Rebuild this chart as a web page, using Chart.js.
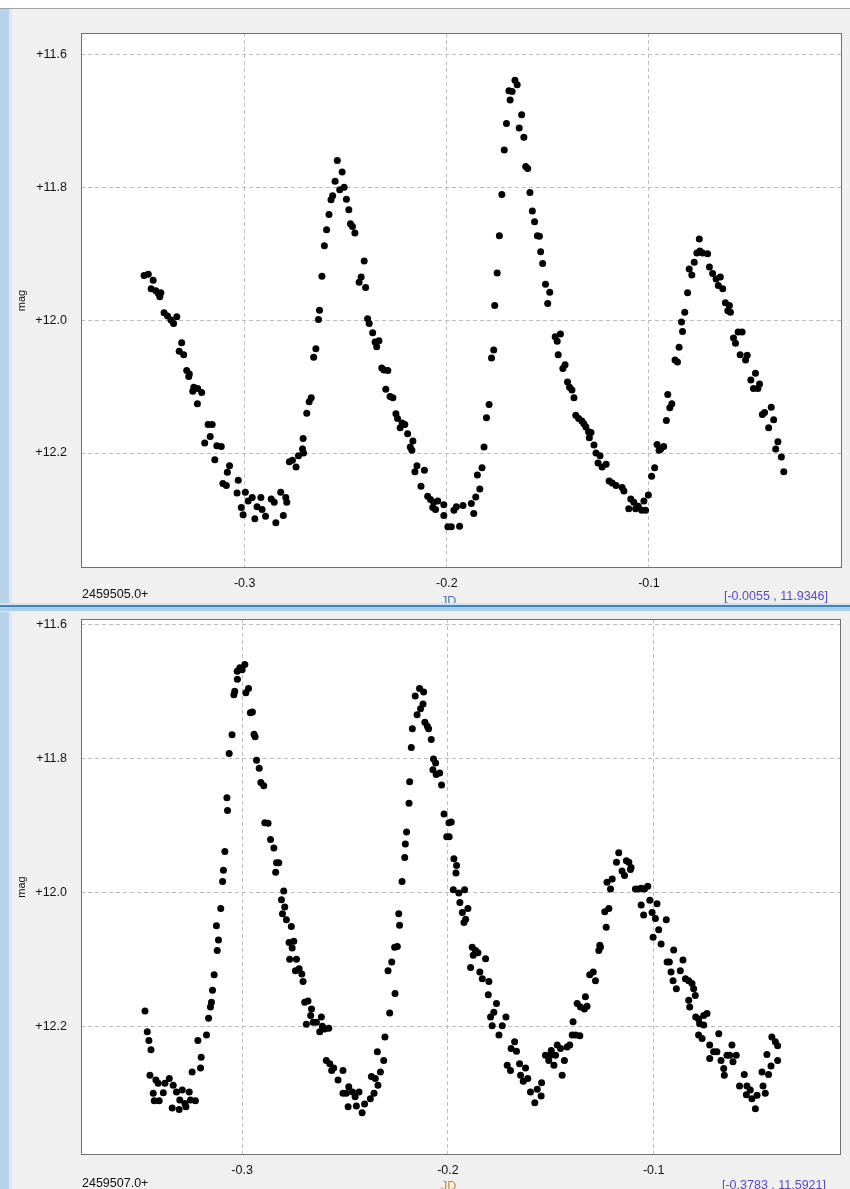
<!DOCTYPE html>
<html>
<head>
<meta charset="utf-8">
<script src="https://cdn.jsdelivr.net/npm/chart.js@4.4.1/dist/chart.umd.min.js"></script>
<style>
  html, body { margin: 0; padding: 0; }
  body { width: 850px; height: 1189px; position: relative; overflow: hidden; background: #f0f0f0;
         font-family: "Liberation Sans", Arial, sans-serif; }
  .topbar { position: absolute; left: 0; top: 0; width: 850px; height: 8px; background: #fff;
            border-bottom: 1px solid #a3a3a3; z-index: 3; }
  .strip { position: absolute; left: 0; top: 9px; width: 9px; height: 1180px; background: #b8d2ea;
           border-right: 3px solid #dbe8f4; z-index: 3; }
  .panel { position: absolute; left: 0; width: 850px; overflow: hidden; }
  .panel canvas { position: absolute; left: 0; top: 0; }
  .lbl { position: absolute; font-size: 12.5px; line-height: 14px; white-space: nowrap; color: #111; }
  .sep { position: absolute; left: 0; top: 603px; width: 850px; height: 9px; z-index: 4;
         background: linear-gradient(#d4e3f1 0 2px, #3f87b8 2px 4px, #a9cfe9 4px 8px, #e6eef6 8px 9px); }
</style>
</head>
<body>
<div class="topbar"></div>
<div class="strip"></div>

<div class="panel" style="top:0;height:603px">
  <canvas id="chartTop" width="850" height="605"></canvas>
  <div class="lbl" style="left:82px;top:587px">2459505.0+</div>
  <div class="lbl" style="left:441px;top:594px;color:#4a76b0">JD</div>
  <div class="lbl" style="right:22px;top:589px;color:#5a48c8">[-0.0055 , 11.9346]</div>
</div>
<div class="sep"></div>
<div class="panel" style="top:611px;height:578px">
  <canvas id="chartBottom" width="850" height="578"></canvas>
  <div class="lbl" style="left:82px;top:565px">2459507.0+</div>
  <div class="lbl" style="left:441px;top:568px;color:#c08a35">JD</div>
  <div class="lbl" style="right:24px;top:567px;color:#5a48c8">[-0.3783 , 11.5921]</div>
</div>

<script>
// tick positions
const xTicks = [-0.3, -0.2, -0.1];
const yTicks = [11.6, 11.8, 12.0, 12.2];

// upper panel, JD offset from 2459505.0
const topJd = [
  -0.3498, -0.3477, -0.3453, -0.3463, -0.3440, -0.3427, -0.3415, -0.3420, -0.3399, -0.3382,
  -0.3365, -0.3352, -0.3336, -0.3312, -0.3324, -0.3302, -0.3287, -0.3274, -0.3277, -0.3252,
  -0.3257, -0.3233, -0.3213, -0.3234, -0.3181, -0.3161, -0.3171, -0.3198, -0.3138, -0.3116,
  -0.3148, -0.3075, -0.3086, -0.3108, -0.3091, -0.3032, -0.3038, -0.2997, -0.2983, -0.2963,
  -0.3017, -0.3008, -0.2950, -0.2939, -0.2920, -0.2914, -0.2897, -0.2869, -0.2854, -0.2846,
  -0.2822, -0.2809, -0.2797, -0.2792, -0.2779, -0.2764, -0.2746, -0.2734, -0.2714, -0.2709,
  -0.2711, -0.2693, -0.2681, -0.2671, -0.2659, -0.2648, -0.2635, -0.2630, -0.2618, -0.2606,
  -0.2595, -0.2583, -0.2573, -0.2565, -0.2553, -0.2542, -0.2530, -0.2518, -0.2508, -0.2497,
  -0.2485, -0.2477, -0.2467, -0.2455, -0.2409, -0.2424, -0.2434, -0.2402, -0.2392, -0.2384,
  -0.2367, -0.2355, -0.2347, -0.2336, -0.2322, -0.2311, -0.2292, -0.2302, -0.2281, -0.2267,
  -0.2252, -0.2244, -0.2231, -0.2221, -0.2208, -0.2194, -0.2181, -0.2168, -0.2173, -0.2148,
  -0.2158, -0.2111, -0.2128, -0.2095, -0.2081, -0.2065, -0.2070, -0.2045, -0.2056, -0.2015,
  -0.2015, -0.1995, -0.1978, -0.1965, -0.1953, -0.1937,
  -0.1920, -0.1879, -0.1867, -0.1857, -0.1837, -0.1849, -0.1826, -0.1816, -0.1804, -0.1791,
  -0.1779, -0.1768, -0.1763, -0.1751, -0.1740, -0.1728, -0.1716, -0.1705, -0.1687, -0.1693,
  -0.1677, -0.1663, -0.1652, -0.1630, -0.1642, -0.1619, -0.1610, -0.1600, -0.1589, -0.1577,
  -0.1566, -0.1552, -0.1542, -0.1536, -0.1526, -0.1512, -0.1491, -0.1501, -0.1464, -0.1454,
  -0.1438, -0.1449, -0.1426, -0.1415, -0.1403, -0.1393, -0.1381, -0.1371, -0.1362, -0.1348,
  -0.1332, -0.1322, -0.1312, -0.1299, -0.1287, -0.1295, -0.1272, -0.1262, -0.1242, -0.1252,
  -0.1232, -0.1212, -0.1197, -0.1182, -0.1163, -0.1133, -0.1124, -0.1100, -0.1090, -0.1075,
  -0.1066, -0.1053, -0.1036, -0.1025, -0.1017, -0.1003, -0.0987, -0.0972, -0.0960, -0.0942,
  -0.0950, -0.0927, -0.0914, -0.0907, -0.0897, -0.0887, -0.0871, -0.0859, -0.0851, -0.0834,
  -0.0839, -0.0823, -0.0809, -0.0801, -0.0788, -0.0776, -0.0763, -0.0751, -0.0748, -0.0735,
  -0.0710, -0.0701, -0.0685, -0.0668, -0.0647, -0.0657, -0.0635, -0.0622, -0.0602, -0.0610,
  -0.0597, -0.0582, -0.0572, -0.0559, -0.0539, -0.0549, -0.0522, -0.0514, -0.0496, -0.0473,
  -0.0483, -0.0453, -0.0461, -0.0439, -0.0428, -0.0395, -0.0408, -0.0383, -0.0373, -0.0362,
  -0.0345, -0.0333
];
const topMag = [
  11.933, 11.931, 11.940, 11.953, 11.956, 11.960, 11.959, 11.965, 11.989, 11.994,
  12.000, 12.005, 11.995, 12.034, 12.047, 12.052, 12.076, 12.081, 12.085, 12.101,
  12.107, 12.103, 12.109, 12.126, 12.157, 12.157, 12.175, 12.185, 12.189, 12.190,
  12.210, 12.219, 12.229, 12.246, 12.249, 12.241, 12.260, 12.259, 12.272, 12.267,
  12.282, 12.293, 12.299, 12.281, 12.267, 12.285, 12.295, 12.269, 12.274, 12.305,
  12.259, 12.294, 12.267, 12.274, 12.213, 12.211, 12.221, 12.204, 12.194, 12.200,
  12.178, 12.140, 12.123, 12.117, 12.056, 12.043, 11.999, 11.985, 11.934, 11.888,
  11.864, 11.841, 11.819, 11.813, 11.791, 11.760, 11.804, 11.777, 11.800, 11.818,
  11.834, 11.855, 11.859, 11.869, 11.911, 11.935, 11.943, 11.951, 11.998, 12.005,
  12.019, 12.033, 12.040, 12.031, 12.072, 12.075, 12.076, 12.104, 12.115, 12.117,
  12.141, 12.148, 12.162, 12.155, 12.157, 12.171, 12.191, 12.182, 12.196, 12.219,
  12.228, 12.226, 12.250, 12.265, 12.270, 12.274, 12.282, 12.272, 12.285, 12.278,
  12.294, 12.311, 12.311, 12.286, 12.281, 12.310,
  12.279, 12.276, 12.291, 12.266, 12.254, 12.233, 12.222, 12.191, 12.147, 12.127,
  12.057, 12.045, 11.978, 11.929, 11.873, 11.811, 11.744, 11.704, 11.669, 11.655,
  11.656, 11.639, 11.646, 11.691, 11.711, 11.725, 11.769, 11.772, 11.808, 11.836,
  11.852, 11.873, 11.874, 11.897, 11.915, 11.946, 11.958, 11.975, 12.025, 12.032,
  12.021, 12.052, 12.073, 12.067, 12.093, 12.101, 12.105, 12.117, 12.143, 12.148,
  12.152, 12.156, 12.161, 12.168, 12.169, 12.177, 12.188, 12.200, 12.204, 12.215,
  12.221, 12.217, 12.242, 12.245, 12.249, 12.252, 12.257, 12.284, 12.269, 12.274,
  12.284, 12.280, 12.286, 12.272, 12.286, 12.263, 12.235, 12.222, 12.187, 12.194,
  12.196, 12.190, 12.151, 12.112, 12.132, 12.126, 12.060, 12.063, 12.041, 12.017,
  12.003, 11.988, 11.959, 11.923, 11.932, 11.913, 11.899, 11.878, 11.896, 11.899,
  11.900, 11.920, 11.930, 11.938, 11.935, 11.948, 11.953, 11.974, 11.978, 11.986,
  11.988, 12.027, 12.035, 12.018, 12.018, 12.052, 12.060, 12.053, 12.090, 12.080,
  12.103, 12.096, 12.103, 12.142, 12.139, 12.131, 12.162, 12.150, 12.194, 12.183,
  12.206, 12.228
];

// lower panel, JD offset from 2459507.0
const bottomJd = [
  -0.3472, -0.3461, -0.3453, -0.3443, -0.3448, -0.3419, -0.3408, -0.3432, -0.3427, -0.3403,
  -0.3383, -0.3375, -0.3354, -0.3335, -0.3319, -0.3340, -0.3306, -0.3291, -0.3303, -0.3278,
  -0.3273, -0.3257, -0.3251, -0.3243, -0.3227, -0.3215, -0.3202, -0.3199, -0.3173, -0.3163,
  -0.3154, -0.3149, -0.3144, -0.3136, -0.3121, -0.3115, -0.3125, -0.3104, -0.3095, -0.3091,
  -0.3084, -0.3071, -0.3074, -0.3063, -0.3049, -0.3040, -0.3036, -0.3023, -0.3024, -0.3011,
  -0.3000, -0.2987, -0.2982, -0.2969, -0.2960, -0.2950, -0.2942, -0.2937, -0.2930, -0.2917,
  -0.2909, -0.2895, -0.2890, -0.2874, -0.2862, -0.2846, -0.2833, -0.2822, -0.2837, -0.2798,
  -0.2809, -0.2793, -0.2804, -0.2785, -0.2761, -0.2772, -0.2749, -0.2757, -0.2769, -0.2736,
  -0.2741, -0.2723, -0.2710, -0.2704, -0.2696, -0.2680, -0.2663, -0.2667, -0.2688, -0.2655,
  -0.2639, -0.2615, -0.2610, -0.2599, -0.2579, -0.2623, -0.2591, -0.2574, -0.2555, -0.2565,
  -0.2534, -0.2510, -0.2482, -0.2494, -0.2510, -0.2464, -0.2451, -0.2432, -0.2485, -0.2445,
  -0.2417, -0.2405, -0.2377, -0.2359, -0.2340, -0.2353, -0.2328, -0.2372, -0.2343, -0.2312,
  -0.2306, -0.2283, -0.2257, -0.2273, -0.2291, -0.2259, -0.2246, -0.2235, -0.2239, -0.2223,
  -0.2210, -0.2207, -0.2201, -0.2189, -0.2186, -0.2178, -0.2173, -0.2150, -0.2159, -0.2138,
  -0.2118, -0.2121, -0.2133, -0.2112, -0.2100, -0.2094, -0.2081, -0.2070, -0.2060, -0.2073,
  -0.2057, -0.2040, -0.2031,
  -0.2019, -0.1995, -0.1984, -0.2006, -0.1994, -0.1971, -0.1958, -0.1961, -0.1974, -0.1947,
  -0.1919, -0.1942, -0.1903, -0.1930, -0.1914, -0.1922, -0.1882, -0.1866, -0.1877, -0.1854,
  -0.1817, -0.1890, -0.1845, -0.1833, -0.1801, -0.1804, -0.1764, -0.1777, -0.1793, -0.1718,
  -0.1785, -0.1736, -0.1752, -0.1693, -0.1676, -0.1667, -0.1712, -0.1696, -0.1652, -0.1623,
  -0.1647, -0.1634, -0.1612, -0.1599, -0.1566, -0.1545, -0.1578, -0.1547, -0.1526, -0.1510,
  -0.1502, -0.1485, -0.1498, -0.1469, -0.1477, -0.1453, -0.1445, -0.1434, -0.1421, -0.1408,
  -0.1392, -0.1396, -0.1380, -0.1359, -0.1372, -0.1356, -0.1337, -0.1324, -0.1332, -0.1311,
  -0.1294, -0.1283, -0.1267, -0.1259, -0.1262, -0.1238, -0.1218, -0.1231, -0.1227, -0.1202,
  -0.1210, -0.1181, -0.1170, -0.1154, -0.1142, -0.1133, -0.1121, -0.1110, -0.1113, -0.1089,
  -0.1073, -0.1060, -0.1045, -0.1029, -0.1061, -0.1049, -0.1019, -0.1008, -0.0984, -0.0992,
  -0.0939, -0.1003, -0.0976, -0.0964, -0.0935, -0.0924, -0.0903, -0.0916, -0.0906, -0.0890,
  -0.0871, -0.0858, -0.0846, -0.0830, -0.0814, -0.0806, -0.0798, -0.0830, -0.0825, -0.0796,
  -0.0782, -0.0757, -0.0741, -0.0777, -0.0757, -0.0782, -0.0765, -0.0728, -0.0684, -0.0693,
  -0.0709, -0.0728, -0.0673, -0.0644, -0.0620, -0.0631, -0.0599, -0.0660, -0.0657, -0.0615,
  -0.0583, -0.0560, -0.0547, -0.0531, -0.0550, -0.0523, -0.0498, -0.0506, -0.0474, -0.0469,
  -0.0458, -0.0442, -0.0450, -0.0430, -0.0426, -0.0409, -0.0398, -0.0398
];
const bottomMag = [
  12.177, 12.208, 12.221, 12.235, 12.273, 12.280, 12.285, 12.300, 12.311, 12.311,
  12.299, 12.285, 12.278, 12.288, 12.298, 12.322, 12.324, 12.295, 12.310, 12.315,
  12.320, 12.298, 12.310, 12.268, 12.311, 12.221, 12.262, 12.246, 12.213, 12.188,
  12.171, 12.164, 12.146, 12.123, 12.087, 12.071, 12.050, 12.024, 11.984, 11.967,
  11.939, 11.878, 11.859, 11.793, 11.765, 11.705, 11.700, 11.682, 11.670, 11.665,
  11.668, 11.660, 11.702, 11.696, 11.732, 11.731, 11.764, 11.768, 11.803, 11.815,
  11.836, 11.841, 11.896, 11.897, 11.921, 11.934, 11.956, 11.956, 11.970, 11.998,
  12.011, 12.022, 12.032, 12.041, 12.051, 12.075, 12.073, 12.083, 12.100, 12.100,
  12.117, 12.114, 12.122, 12.133, 12.164, 12.162, 12.174, 12.184, 12.197, 12.194,
  12.194, 12.186, 12.200, 12.204, 12.203, 12.208, 12.251, 12.256, 12.262, 12.266,
  12.280, 12.266, 12.290, 12.300, 12.300, 12.298, 12.305, 12.298, 12.320, 12.319,
  12.329, 12.316, 12.308, 12.300, 12.288, 12.278, 12.268, 12.275, 12.238, 12.251,
  12.216, 12.180, 12.151, 12.104, 12.117, 12.082, 12.081, 12.049, 12.032, 11.984,
  11.948, 11.928, 11.910, 11.867, 11.835, 11.784, 11.756, 11.735, 11.707, 11.696,
  11.701, 11.719, 11.726, 11.746, 11.752, 11.756, 11.772, 11.801, 11.807, 11.817,
  11.824, 11.822, 11.840,
  11.883, 11.896, 11.895, 11.917, 11.917, 11.950, 11.960, 11.971, 11.996, 12.001,
  11.996, 12.015, 12.024, 12.030, 12.040, 12.045, 12.082, 12.087, 12.094, 12.090,
  12.099, 12.112, 12.119, 12.129, 12.133, 12.153, 12.166, 12.179, 12.186, 12.186,
  12.199, 12.199, 12.213, 12.233, 12.223, 12.237, 12.258, 12.266, 12.256, 12.262,
  12.273, 12.282, 12.278, 12.298, 12.294, 12.284, 12.314, 12.304, 12.243, 12.251,
  12.243, 12.258, 12.236, 12.228, 12.243, 12.233, 12.273, 12.251, 12.231, 12.228,
  12.193, 12.213, 12.213, 12.214, 12.166, 12.171, 12.174, 12.170, 12.156, 12.123,
  12.119, 12.132, 12.087, 12.082, 12.079, 12.029, 12.024, 12.052, 11.985, 11.980,
  11.995, 11.955, 11.941, 11.968, 11.975, 11.953, 11.955, 11.963, 11.966, 11.995,
  11.995, 11.994, 11.995, 11.991, 12.019, 12.034, 12.012, 12.030, 12.017, 12.039,
  12.041, 12.067, 12.056, 12.077, 12.104, 12.104, 12.086, 12.119, 12.132, 12.144,
  12.117, 12.101, 12.129, 12.132, 12.136, 12.144, 12.154, 12.161, 12.171, 12.186,
  12.189, 12.184, 12.181, 12.196, 12.198, 12.213, 12.218, 12.228, 12.211, 12.238,
  12.238, 12.248, 12.251, 12.243, 12.228, 12.243, 12.243, 12.263, 12.273, 12.253,
  12.289, 12.272, 12.289, 12.295, 12.302, 12.308, 12.303, 12.323, 12.268, 12.289,
  12.300, 12.272, 12.242, 12.259, 12.216, 12.223, 12.229, 12.251
];

Chart.defaults.font.family = '"Liberation Sans", Arial, sans-serif';
Chart.defaults.font.size = 12.5;
Chart.defaults.color = '#111';

// white plot area with a grey frame
const framePlugin = {
  id: 'frame',
  beforeDraw(chart) {
    const a = chart.chartArea, ctx = chart.ctx;
    ctx.save();
    ctx.fillStyle = '#fff';
    ctx.fillRect(a.left, a.top, a.right - a.left, a.bottom - a.top);
    ctx.restore();
  },
  afterDraw(chart) {
    const a = chart.chartArea, ctx = chart.ctx;
    ctx.save();
    ctx.strokeStyle = '#707070';
    ctx.lineWidth = 1;
    ctx.strokeRect(Math.round(a.left) + 0.5, Math.round(a.top) + 0.5,
                   Math.round(a.right - a.left) - 1, Math.round(a.bottom - a.top) - 1);
    ctx.restore();
  }
};

function makePanel(id, jd, mag, xr, yr, pad, xHeight) {
  const points = jd.map((x, i) => ({ x: x, y: mag[i] }));
  return new Chart(document.getElementById(id), {
    type: 'scatter',
    data: {
      datasets: [{
        data: points,
        pointRadius: 3.5,
        pointBackgroundColor: '#000',
        pointBorderWidth: 0,
        showLine: false
      }]
    },
    options: {
      responsive: false,
      animation: false,
      layout: { padding: pad },
      plugins: { legend: { display: false }, tooltip: { enabled: false } },
      scales: {
        x: {
          type: 'linear', min: xr[0], max: xr[1],
          afterBuildTicks: s => { s.ticks = xTicks.map(v => ({ value: v })); },
          afterFit: s => { s.height = xHeight; s.paddingLeft = 0; s.paddingRight = 0; },
          ticks: { padding: 8, maxRotation: 0, callback: v => v.toFixed(1) },
          grid: { color: '#bdbdbd', drawTicks: false },
          border: { display: false, dash: [4, 3] }
        },
        y: {
          type: 'linear', reverse: true, min: yr[0], max: yr[1],
          afterBuildTicks: s => { s.ticks = yTicks.map(v => ({ value: v })); },
          afterFit: s => { s.width = 71; s.paddingTop = 0; s.paddingBottom = 0; },
          ticks: { padding: 14, callback: v => '+' + v.toFixed(1) },
          grid: { color: '#bdbdbd', drawTicks: false },
          border: { display: false, dash: [4, 3] },
          title: { display: true, text: 'mag', font: { size: 11 }, padding: { top: 5, bottom: 4 } }
        }
      }
    },
    plugins: [framePlugin]
  });
}

makePanel('chartTop', topJd, topMag, [-0.381, -0.0045], [11.568, 12.373],
          { left: 10, top: 33, right: 8, bottom: 0 }, 37);
makePanel('chartBottom', bottomJd, bottomMag, [-0.3783, -0.009], [11.5921, 12.392],
          { left: 10, top: 8, right: 9, bottom: 0 }, 34);
</script>
</body>
</html>
